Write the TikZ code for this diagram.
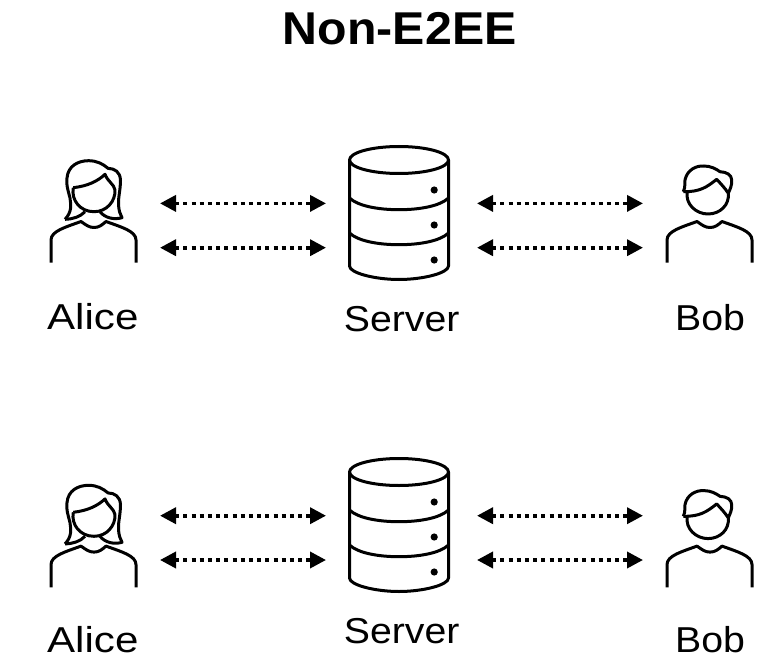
\documentclass[tikz,border=0pt]{standalone}
\usepackage{fontspec}
\setmainfont{Liberation Sans}
\newfontfamily\labelfont[FakeStretch=1.09]{Liberation Sans}
\newfontfamily\widelabelfont[FakeStretch=1.17]{Liberation Sans}
\newfontfamily\titlefont[FakeStretch=1.05]{Liberation Sans Bold}
\usetikzlibrary{arrows.meta}
\tikzset{
  icon/.style={line width=3pt,line join=round,line cap=butt,draw=black},
  link/.style={line width=3.6pt,dash pattern=on 4pt off 4.2pt,
    {Triangle[length=16pt,width=16pt]}-{Triangle[length=16pt,width=16pt]}},
  who/.style={anchor=base,inner sep=0pt,font=\labelfont\fontsize{36}{40}\selectfont},
  whowide/.style={anchor=base,inner sep=0pt,font=\widelabelfont\fontsize{36}{40}\selectfont},
  heading/.style={anchor=base,inner sep=0pt,font=\titlefont\fontsize{46}{50}\selectfont},
  personbody/.pic={
    \draw[icon] (51,262.7) -- (51,240) .. controls (51,231) and (66,227) .. (81,221.5)
      .. controls (86,225) and (89,227.5) .. (94,227.5) .. controls (99,227.5) and (102,225) .. (106,221.5)
      .. controls (121,227) and (136,231) .. (136,240) -- (136,262.7);
  },
  alicehead/.pic={
    \draw[icon] (65,219.3) .. controls (72,212) and (71,205) .. (70,198)
      .. controls (68,190) and (66,185) .. (67,178) .. controls (68,166) and (78,160.7) .. (88.5,160.7)
      .. controls (97,160.7) and (103,164) .. (108,168.3) .. controls (115,168.5) and (120,172) .. (120.5,180)
      .. controls (120.5,190) and (118,198) .. (118.5,205) .. controls (119,211) and (120,214) .. (122,217.7)
      .. controls (114,220) and (105,218) .. (100,211.7);
    \draw[icon] (65,219.3) .. controls (73,219) and (80,217) .. (85,211.7);
    \draw[icon] (73.3,187.7) .. controls (71,200) and (80,211.7) .. (94,211.7)
      .. controls (107,211.7) and (115.5,201) .. (115,190)
      .. controls (114,184) and (108,182) .. (105,174.3)
      .. controls (98,181) and (88,186) .. (73.3,187.7);
  },
  bobhead/.pic={
    \draw[icon] (683.3,191.7) .. controls (686,186) and (684,184) .. (685,180)
      .. controls (687,170) and (696,165.5) .. (704,166) .. controls (711,166) and (716,169) .. (720,171.7)
      .. controls (727,172) and (731.5,175) .. (731.7,180) .. controls (732,186) and (730,189) .. (728.3,193.3);
    \draw[icon] (683.3,191.7) .. controls (700,192) and (707,187) .. (716.7,179.3)
      .. controls (720,183) and (725,188) .. (728.3,193.3)
      .. controls (729.5,205) and (720,214) .. (708,214) .. controls (696,214) and (685,204) .. (687.3,191.7);
  },
  dbicon/.pic={
    \draw[icon] (399,160) ellipse [x radius=49.5,y radius=13.5];
    \draw[icon] (349.5,160) -- (349.5,266) .. controls (349.5,273) and (375,279.5) .. (399,279.5)
      .. controls (423,279.5) and (448.5,273) .. (448.5,266) -- (448.5,160);
    \draw[icon] (349.5,198) .. controls (358,206) and (378,209.7) .. (399,209.7)
      .. controls (420,209.7) and (440,206) .. (448.5,198);
    \draw[icon] (349.5,233) .. controls (358,241) and (378,244.7) .. (399,244.7)
      .. controls (420,244.7) and (440,241) .. (448.5,233);
    \fill (434.2,190) circle (3.6) (434.2,225) circle (3.6) (434.2,260) circle (3.6);
  },
}
\begin{document}
\begin{tikzpicture}[x=1pt,y=-1pt]
\useasboundingbox (0,0) rectangle (759,660);
\node[heading] (title) at (399.7,45) {Non-E2EE};

% top group
\pic at (0,0) {personbody};
\pic at (0,0) {alicehead};
\pic at (616,0) {personbody};
\pic at (0,0) {bobhead};
\pic at (0,0) {dbicon};
\node[whowide] (alice1) at (92.8,329) {Alice};
\node[who] (server1) at (401.7,331.7) {Server};
\node[who] (bob1) at (710,330.7) {Bob};
\coordinate (a1) at (160,203.4); \coordinate (s1) at (326,203.4);
\coordinate (a2) at (160,247.7); \coordinate (s2) at (326,247.7);
\coordinate (t1) at (477,203.4); \coordinate (b1) at (643,203.4);
\coordinate (t2) at (477,247.7); \coordinate (b2) at (643,247.7);
\draw[link] (a1) -- (s1);
\draw[link] (a2) -- (s2);
\draw[link] (t1) -- (b1);
\draw[link] (t2) -- (b2);

% bottom group
\pic at (0,324.6) {personbody};
\pic at (0,324.6) {alicehead};
\pic at (616,324.6) {personbody};
\pic at (0,324.6) {bobhead};
\pic at (0,312) {dbicon};
\node[whowide] (alice2) at (92.8,652.5) {Alice};
\node[who] (server2) at (401.7,643.5) {Server};
\node[who] (bob2) at (710,652.5) {Bob};
\coordinate (c1) at (160,515.7); \coordinate (u1) at (326,515.7);
\coordinate (c2) at (160,560); \coordinate (u2) at (326,560);
\coordinate (v1) at (477,515.7); \coordinate (d1) at (643,515.7);
\coordinate (v2) at (477,560); \coordinate (d2) at (643,560);
\draw[link] (c1) -- (u1);
\draw[link] (c2) -- (u2);
\draw[link] (v1) -- (d1);
\draw[link] (v2) -- (d2);
\end{tikzpicture}
\end{document}
